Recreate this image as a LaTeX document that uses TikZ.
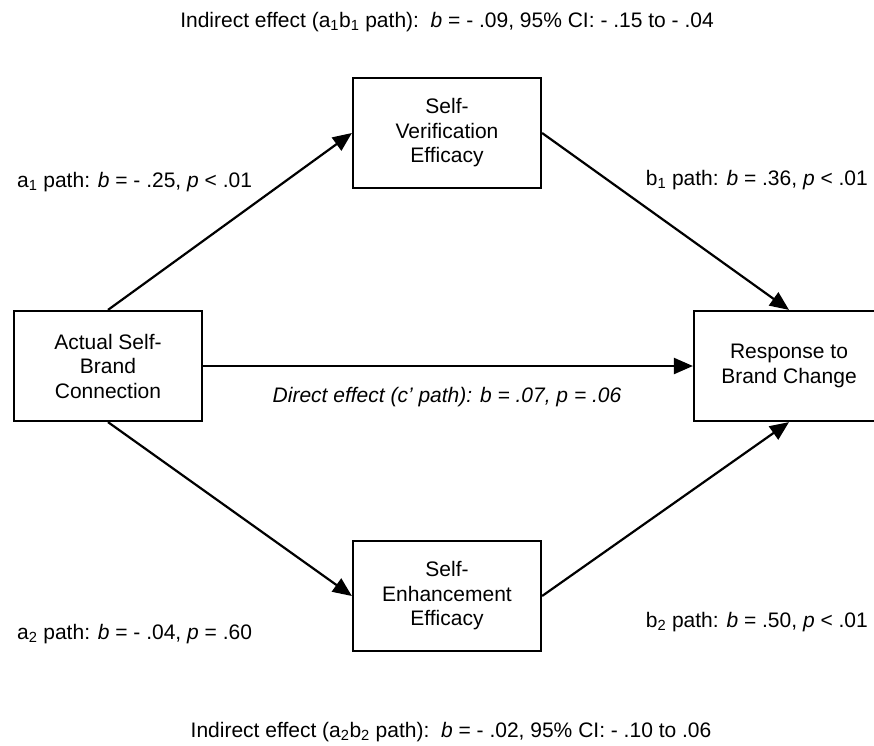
\documentclass[tikz,border=0pt]{standalone}
\usepackage{fontspec}
\setmainfont{Liberation Sans}
\usetikzlibrary{arrows.meta}
\begin{document}
\begin{tikzpicture}[x=1pt,y=-1pt,
  every node/.style={font=\fontsize{21}{24.5}\selectfont, inner sep=0pt},
  box/.style={draw, line width=2.2pt, minimum width=188pt, minimum height=110pt, align=center},
  conn/.style={line width=2.2pt, -{Triangle[length=19pt,width=16pt]}},
  lbl/.style={anchor=west},
  rlbl/.style={anchor=east}]
\useasboundingbox (0,0) rectangle (874,745);
\fill[white] (0,0) rectangle (874,745);
\begin{scope}
\clip (0,0) rectangle (874,745);
\node[box] (asb) at (108,366) {Actual Self-\\Brand\\Connection};
\node[box] (sve) at (447,133) {Self-\\Verification\\Efficacy};
\node[box] (see) at (447,596) {Self-\\Enhancement\\Efficacy};
\node[box, minimum width=190pt] (rbc) at (789,366) {Response to\\Brand Change};
\end{scope}
\draw[conn] (asb.north) -- (sve.west);
\draw[conn] (sve.east) -- (rbc.north);
\draw[conn] (asb.east) -- (rbc.west);
\draw[conn] (asb.south) -- (see.west);
\draw[conn] (see.east) -- (rbc.south);
\node (top) at (447,22) {Indirect effect (a\textsubscript{1}b\textsubscript{1} path):\ \ \textit{b} = - .09, 95\% CI: - .15 to - .04};
\node (bot) at (451,732) {Indirect effect (a\textsubscript{2}b\textsubscript{2} path):\ \ \textit{b} = - .02, 95\% CI: - .10 to .06};
\node[lbl] (la1) at (17,182) {a\textsubscript{1} path: \textit{b} = - .25, \textit{p} < .01};
\node[rlbl] (lb1) at (868,180) {b\textsubscript{1} path: \textit{b} = .36, \textit{p} < .01};
\node[lbl] (la2) at (17,634) {a\textsubscript{2} path: \textit{b} = - .04, \textit{p} = .60};
\node[rlbl] (lb2) at (868,622) {b\textsubscript{2} path: \textit{b} = .50, \textit{p} < .01};
\node (dir) at (447,397) {\itshape Direct effect (c’ path): b = .07, p = .06};
\end{tikzpicture}
\end{document}
